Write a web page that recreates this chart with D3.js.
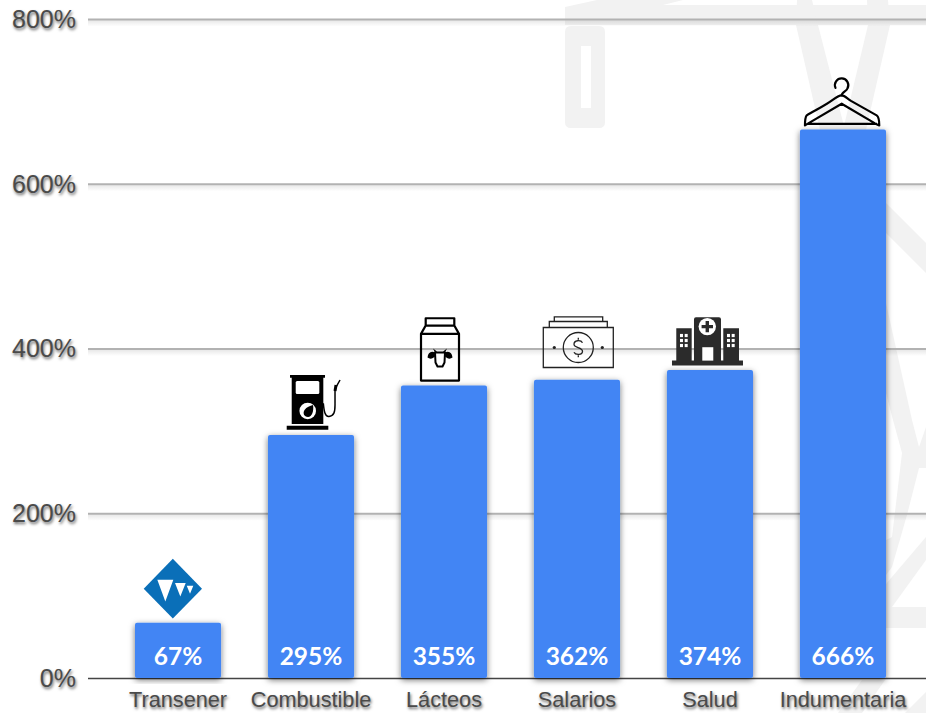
<!DOCTYPE html>
<html>
<head>
<meta charset="utf-8">
<title>Aumentos</title>
<script src="https://d3js.org/d3.v7.min.js"></script>
<style>
  body { margin: 0; background: #fff; }
  svg { display: block; }
  .axis text { font-family: "Liberation Sans", Arial, sans-serif; fill: #4a4a4a; text-shadow: 1px 2px 3px rgba(0,0,0,.6); }
  .yAxis text { font-size: 25px; }
  .xAxis text { font-size: 21.7px; }
  .value { font-family: Lato, "Open Sans", sans-serif; font-weight: 700; font-size: 24.5px; fill: #fff; text-anchor: middle; }
</style>
</head>
<body>
<div class="barChart"></div>
<script>
/* chart data */
const categories = ["Transener", "Combustible", "Lácteos", "Salarios", "Salud", "Indumentaria"];
const values = [67, 295, 355, 362, 374, 666];
const yTicks = [0, 200, 400, 600, 800];

const width = 926;
const height = 713;
const margin = ({top: 19, right: 0, bottom: 35, left: 88});

/* create chart container */
const svg = d3.select(".barChart")
  .append("svg")
  .attr("width", width)
  .attr("height", height);

/* soft shadows used by the bars and the grid lines */
const defs = svg.append("defs");
defs.append("filter").attr("id", "barShadow")
  .attr("x", "-20%").attr("y", "-10%").attr("width", "140%").attr("height", "120%")
  .append("feDropShadow")
  .attr("dx", 0).attr("dy", 2).attr("stdDeviation", 3)
  .attr("flood-color", "#000").attr("flood-opacity", 0.55);

/* faded tower behind the chart */
const tower = [
  "M565,25 L565,7 L597,0 L683,0 L663,5 L926,5 L926,25 Z",
  "M797,0 L812,0 L818,25 L796,25 Z",
  "M867,0 L888,0 L890,25 L868,25 Z",
  "M796,25 L818,25 L845,130 L820,130 Z",
  "M868,25 L890,25 L866,130 L843,130 Z",
  "M886,203 L926,243 L926,273 L886,233 Z",
  "M886,303 L912,420 L919,447 L926,427 L926,468 L919,468 L907,515 L892,567 L886,575 L886,540 L892,537 L902,453 L893,420 L886,393 Z",
  "M926,537 L926,560 L892,607 L886,607 L886,584 Z",
  "M886,607 L926,607 L926,628 L886,628 Z",
  "M838,713 L862,680 L885,680 L862,713 Z",
  "M905,713 L926,692 L926,713 Z"
];
const bg = svg.append("g").attr("fill", "#f2f2f2");
bg.selectAll("path").data(tower).join("path").attr("d", d => d);
bg.append("path")
  .attr("fill-rule", "evenodd")
  .attr("d", "M571,26 H599 Q605,26 605,32 V122 Q605,128 599,128 H571 Q565,128 565,122 V32 Q565,26 571,26 Z M581,46 V108 H591 V46 Z");

/* scales */
const xScale = d3.scaleBand()
  .domain(categories)
  .range([135, 886])
  .paddingInner(0.353)
  .paddingOuter(0);

const yScale = d3.scaleLinear()
  .domain([0, 800])
  .range([height - margin.bottom, margin.top]);

/* y axis with the grid lines */
const yAxis = svg.append("g")
  .attr("class", "axis yAxis")
  .attr("transform", `translate(${margin.left},0)`)
  .call(d3.axisLeft(yScale).tickValues(yTicks).tickFormat(d => d + "%")
    .tickSize(-(width - margin.left)).tickPadding(12));
yAxis.select(".domain").remove();
yAxis.selectAll("text").attr("dy", "0.33em");
yAxis.selectAll("line")
  .attr("stroke", d => d === 0 ? "#444" : "#b2b2b2")
  .attr("stroke-width", d => d === 0 ? 1.5 : 2);
/* shadow strip below each grid line */
yAxis.selectAll(".tick").filter(d => d > 0).append("rect")
  .attr("x", 0).attr("y", 1)
  .attr("width", width - margin.left).attr("height", 6)
  .attr("fill", "url(#lineFade)");
const fade = defs.append("linearGradient").attr("id", "lineFade")
  .attr("x1", 0).attr("y1", 0).attr("x2", 0).attr("y2", 1);
fade.append("stop").attr("offset", 0).attr("stop-color", "#000").attr("stop-opacity", 0.09);
fade.append("stop").attr("offset", 1).attr("stop-color", "#000").attr("stop-opacity", 0);

/* x axis labels */
const xAxis = svg.append("g")
  .attr("class", "axis xAxis")
  .attr("transform", `translate(0,${yScale(0)})`)
  .call(d3.axisBottom(xScale).tickSize(0).tickPadding(14));
xAxis.select(".domain").remove();

/* bars */
svg.append("g").selectAll("rect")
  .data(values)
  .join("rect")
  .attr("x", (d, i) => xScale(categories[i]))
  .attr("y", d => yScale(d))
  .attr("width", xScale.bandwidth())
  .attr("height", d => yScale(0) - yScale(d))
  .attr("rx", 2)
  .attr("fill", "#4285f4")
  .attr("filter", "url(#barShadow)");

/* value labels at the foot of the bars */
svg.append("g").selectAll("text")
  .data(values)
  .join("text")
  .attr("class", "value")
  .attr("x", (d, i) => xScale(categories[i]) + xScale.bandwidth() / 2)
  .attr("y", yScale(0) - 13)
  .text(d => d + "%");

/* icons, origin at the top centre of each bar */
function iconTransener(g) {
  g.append("path").attr("fill", "#0a6fb8")
    .attr("d", "M-5.2,-64 L24,-34 L-5.2,-4.3 L-34.3,-34 Z");
  g.append("path").attr("fill", "#fff")
    .attr("d", "M-20.7,-43 H-4.7 L-12.7,-21.3 Z M-3,-39.7 H7.7 L2.3,-26.3 Z M8.7,-37 H15.3 L12,-29 Z");
}

function iconPump(g) {
  g.append("path").attr("fill", "#000")
    .attr("d", "M-24.3,-9.3 H17.3 V-5.3 H-24.3 Z M-21,-60 H14 V-57.3 H12.3 V-11 H-19.3 V-57.3 H-21 Z");
  g.append("rect").attr("x", -15.3).attr("y", -54).attr("width", 23.6).attr("height", 13).attr("rx", 1.5).attr("fill", "#fff");
  g.append("circle").attr("cx", -3.3).attr("cy", -24).attr("r", 8.3).attr("fill", "#fff");
  g.append("path").attr("fill", "#000")
    .attr("d", "M2,-30 C3,-24 1,-18 -3,-18 C-7,-18 -8.5,-22 -6.5,-25 C-4.5,-28 -1,-29 2,-30 Z");
  g.append("path").attr("fill", "none").attr("stroke", "#000").attr("stroke-width", 1.5)
    .attr("d", "M12.3,-31.7 C13,-24 14,-18 18,-18.5 C23,-19 24,-23 24,-30 L24,-46 L29,-55");
  g.append("path").attr("fill", "none").attr("stroke", "#000").attr("stroke-width", 3)
    .attr("d", "M24,-44 L25,-50");
}

function iconMilk(g) {
  g.append("path").attr("fill", "none").attr("stroke", "#000").attr("stroke-width", 2.2).attr("stroke-linejoin", "round")
    .attr("d", "M-18.3,-67.3 H10.3 V-60 H-18.3 Z M-18.3,-60 L-23,-51.7 V-5 H15 V-51.7 L10.3,-60 M-23,-51.7 H15");
  g.append("path").attr("fill", "none").attr("stroke", "#000").attr("stroke-width", 2).attr("stroke-linejoin", "round")
    .attr("d", "M-9,-33 H1 L0.5,-23 L-1.5,-19 H-6.5 L-8.5,-23 Z");
  g.append("path").attr("fill", "#000")
    .attr("d", "M-9,-33 C-13,-35 -16,-33 -16.5,-28 C-14,-26 -11,-27 -9,-29 Z M1,-33 C5,-35 8,-33 8.5,-28 C6,-26 3,-27 1,-29 Z M-9,-33 L-11,-37 L-7,-34 Z M1,-33 L3,-37 L-1,-34 Z");
}

function iconMoney(g) {
  g.append("path").attr("fill", "none").attr("stroke", "#222").attr("stroke-width", 1.3)
    .attr("d", "M-33.7,-52.3 H36.3 V-12.3 H-33.7 Z M-27.7,-52.3 V-58.3 H30.3 V-52.3 M-22.7,-58.3 V-63 H25.7 V-58.3");
  g.append("circle").attr("cx", 1.3).attr("cy", -32.3).attr("r", 15)
    .attr("fill", "none").attr("stroke", "#222").attr("stroke-width", 1.3);
  g.append("path").attr("fill", "none").attr("stroke", "#222").attr("stroke-width", 1.3)
    .attr("d", "M5.5,-37 C4,-40 -3,-40 -3,-35.5 C-3,-31.5 5.5,-33 5.5,-28.5 C5.5,-24.5 -1.5,-24.5 -3,-27.5 M1.3,-42 V-40 M1.3,-24.5 V-22.5");
  g.selectAll("circle.dot").data([-22.7, 25.3]).join("circle").attr("class", "dot")
    .attr("cx", d => d).attr("cy", -32.3).attr("r", 1.6).attr("fill", "#222");
}

function iconHospital(g) {
  g.append("path").attr("fill", "#2b2b2b")
    .attr("d", "M-38,-9.3 H33 V-4.3 H-38 Z M-14,-52.7 H9 Q11,-52.7 11,-50.7 V-9.3 H-16 V-50.7 Q-16,-52.7 -14,-52.7 Z M-33.7,-41.7 H-18.3 V-9.3 H-33.7 Z M13.3,-41.7 H29 V-9.3 H13.3 Z");
  g.append("circle").attr("cx", -2.7).attr("cy", -43.3).attr("r", 8.7).attr("fill", "#fff");
  g.append("path").attr("fill", "#2b2b2b")
    .attr("d", "M-4.4,-49 H-1 V-45 H3 V-41.6 H-1 V-37.6 H-4.4 V-41.6 H-8.4 V-45 H-4.4 Z");
  g.append("rect").attr("x", -7.7).attr("y", -22.7).attr("width", 11).attr("height", 13.4).attr("fill", "#fff");
  [-30, 17].forEach(x0 => {
    [0, 1].forEach(c => [0, 1, 2].forEach(r => {
      g.append("rect").attr("x", x0 + c * 4.7).attr("y", -36 + r * 5)
        .attr("width", 3).attr("height", 3.2).attr("fill", "#fff");
    }));
  });
}

function iconHanger(g) {
  g.append("path").attr("fill", "none").attr("stroke", "#000").attr("stroke-width", 2.2).attr("stroke-linejoin", "round").attr("stroke-linecap", "round")
    .attr("d", "M-7.5,-41.5 A6.7,6.7 0 1 1 4.5,-41 C4,-38.5 -1.3,-37 -1.3,-34");
  g.append("path").attr("fill", "none").attr("stroke", "#000").attr("stroke-width", 2.2).attr("stroke-linejoin", "round")
    .attr("d", "M-1.3,-34 C2,-34 4,-31 8,-28.5 L33.7,-14 C36,-12.5 36.3,-8 36.3,-4 L32,-6 L-1.3,-25.7 L-34.7,-6 L-38,-4 C-38,-8 -37.5,-12.5 -36.3,-14 C-28,-19 -16,-25 -11,-29 C-7,-32 -4,-34 -1.3,-34 Z M-35,-5.5 H34");
}

const icons = [iconTransener, iconPump, iconMilk, iconMoney, iconHospital, iconHanger];

svg.append("g").selectAll("g")
  .data(values)
  .join("g")
  .attr("transform", (d, i) => `translate(${xScale(categories[i]) + xScale.bandwidth() / 2},${yScale(d)})`)
  .each(function(d, i) { icons[i](d3.select(this)); });
</script>
</body>
</html>
